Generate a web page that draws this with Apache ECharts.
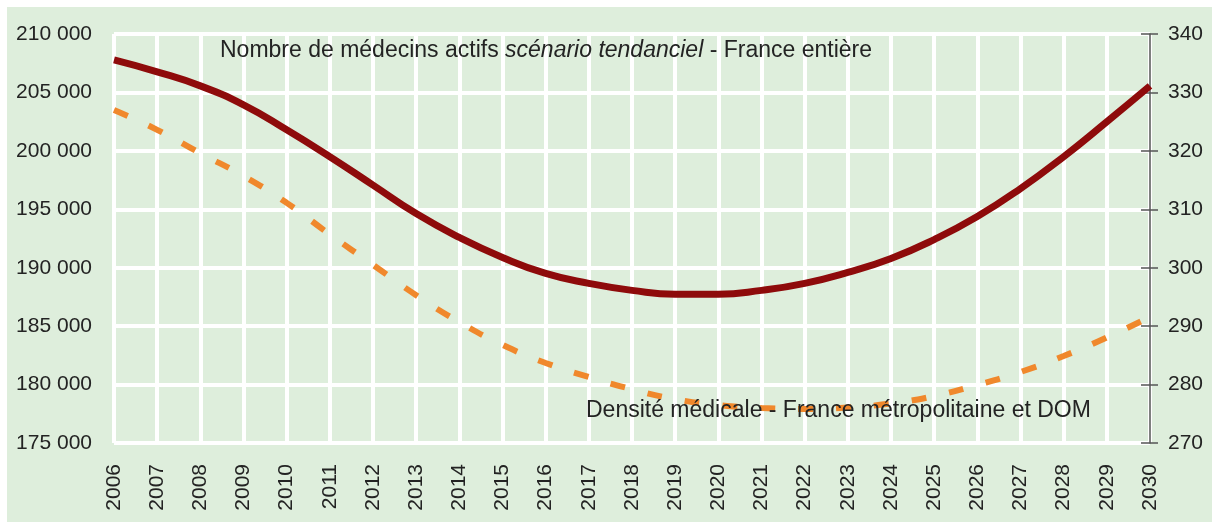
<!DOCTYPE html>
<html>
<head>
<meta charset="utf-8">
<script src="https://cdn.jsdelivr.net/npm/echarts@6/dist/echarts.min.js"></script>
<style>
html,body{margin:0;padding:0;background:#ffffff;}
#c{position:absolute;left:7px;top:7px;width:1205px;height:515px;}
</style>
</head>
<body>
<div id="c"></div>
<script>
const years = ['2006','2007','2008','2009','2010','2011','2012','2013','2014','2015','2016','2017','2018','2019','2020','2021','2022','2023','2024','2025','2026','2027','2028','2029','2030'];
const medecinsActifs = [207780,206760,205560,203940,201800,199500,197070,194630,192590,190880,189510,188660,188060,187720,187720,188060,188660,189600,190790,192410,194380,196770,199500,202490,205560];
const densiteMedicale = [327.0,323.6,319.6,315.7,311.1,305.7,300.5,295.3,290.7,286.8,283.7,281.3,279.2,277.5,276.5,275.99,275.82,276.08,276.76,278.04,279.93,282.15,284.89,288.06,291.57];
const labelMedecins = ['Nombre de médecins actifs ', 'scénario tendanciel', ' - France entière'];
const labelDensite = 'Densité médicale - France métropolitaine et DOM';

const FONT = '"Liberation Sans", Arial, sans-serif';
const TXT = '#232323';

const chart = echarts.init(document.getElementById('c'));
const fmt = v => String(v).replace(/\B(?=(\d{3})+(?!\d))/g, ' ');

chart.setOption({
  backgroundColor: '#deeedc',
  animation: false,
  grid: {left: 107, top: 27, right: 62, bottom: 79, containLabel: false, outerBoundsMode: 'none'},
  xAxis: {
    type: 'category',
    data: years,
    boundaryGap: false,
    axisLine: {show: false},
    axisTick: {show: false},
    splitLine: {show: true, lineStyle: {color: '#ffffff', width: 4}},
    axisLabel: {rotate: 90, margin: 21, fontFamily: FONT, fontSize: 21, color: TXT, interval: 0}
  },
  yAxis: [
    {
      type: 'value', min: 175000, max: 210000, interval: 5000, position: 'left',
      axisLine: {show: false}, axisTick: {show: false},
      splitLine: {show: true, lineStyle: {color: '#ffffff', width: 4}},
      axisLabel: {margin: 22, fontFamily: FONT, fontSize: 21, color: TXT, formatter: fmt}
    },
    {
      type: 'value', min: 270, max: 340, interval: 10, position: 'right',
      axisLine: {show: true, lineStyle: {color: '#555555', width: 1.5}},
      axisTick: {show: true, length: 8, lineStyle: {color: '#555555', width: 1.5}},
      splitLine: {show: false},
      axisLabel: {margin: 18, fontFamily: FONT, fontSize: 21, color: TXT}
    },
    {
      type: 'value', min: 270, max: 340, interval: 10, position: 'right',
      axisLine: {show: false},
      axisTick: {show: true, inside: true, length: 9, lineStyle: {color: '#555555', width: 1.5}},
      splitLine: {show: false},
      axisLabel: {show: false}
    }
  ],
  series: [
    {
      name: 'Nombre de médecins actifs',
      type: 'line', yAxisIndex: 0, data: medecinsActifs, smooth: true,
      symbol: 'none',
      lineStyle: {color: '#8e0b0b', width: 7}, z: 3
    },
    {
      name: 'Densité médicale',
      type: 'line', yAxisIndex: 1, data: densiteMedicale, smooth: true,
      symbol: 'none',
      lineStyle: {color: '#f0882c', width: 6, type: [15, 23], cap: 'butt'}, z: 2
    }
  ],
  graphic: [
    {
      type: 'text', left: 213, top: 32, z: 10,
      style: {
        text: '{a|' + labelMedecins[0] + '}{b|' + labelMedecins[1] + '}{a|' + labelMedecins[2] + '}',
        rich: {
          a: {fontFamily: FONT, fontSize: 23, fill: TXT},
          b: {fontFamily: FONT, fontSize: 23, fill: TXT, fontStyle: 'italic'}
        }
      }
    },
    {
      type: 'text', left: 579, top: 392, z: 10,
      style: {text: labelDensite, fontFamily: FONT, fontSize: 23, fill: TXT}
    }
  ]
});
</script>
</body>
</html>
